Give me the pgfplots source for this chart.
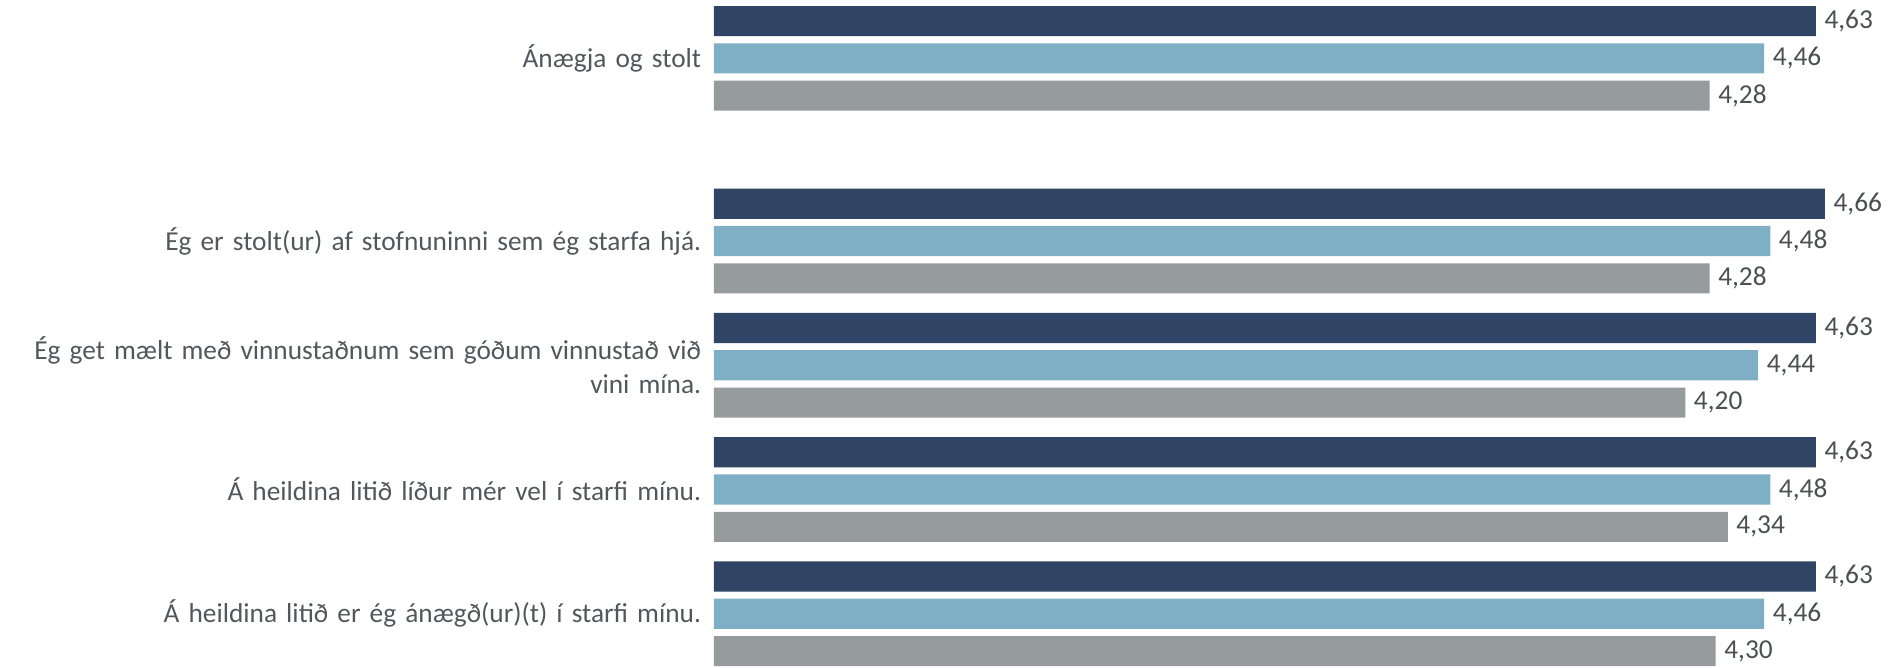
\documentclass[border=0pt]{standalone}
\usepackage{fontspec}
\setmainfont{Carlito}
\usepackage{pgfplots}
\pgfplotsset{compat=1.18}
\definecolor{navy}{HTML}{304566}
\definecolor{lblue}{HTML}{7FAFC4}
\definecolor{gry}{HTML}{969B9D}
\definecolor{txt}{HTML}{51585C}
\definecolor{numtxt}{HTML}{4A4F52}
\begin{document}
\begin{tikzpicture}
\begin{axis}[
 scale only axis, width=117.5mm, height=66.9mm,
 xmin=1, xmax=4.86, ymin=-0.43, ymax=4.94,
 xbar, bar width=0.242, bar shift=0pt,
 axis line style={draw=none}, major tick length=0pt,
 xtick=\empty,
 ytick={0,1,2,3,4.47},
 yticklabels={{Á heildina litið er ég ánægð(ur)(t) í starfi mínu.},{Á heildina litið líður mér vel í starfi mínu.},{Ég get mælt með vinnustaðnum sem góðum vinnustað við\\vini mína.},{Ég er stolt(ur) af stofnuninni sem ég starfa hjá.},{Ánægja og stolt}},
 yticklabel style={text width=70.3mm, align=right, inner sep=0pt, xshift=-1.2mm, font=\fontsize{7.8}{9.6}\selectfont, text=txt},
 point meta=x,
 nodes near coords={\pgfmathprintnumber[fixed,fixed zerofill,precision=2,use comma,assume math mode=true]{\pgfplotspointmeta}},
 nodes near coords style={font=\fontsize{7.8}{9.6}\selectfont, text=numtxt, inner xsep=0.8mm, inner ysep=0pt},
]
\addplot[fill=navy, draw=none] coordinates {(4.63,4.77) (4.66,3.30) (4.63,2.30) (4.63,1.30) (4.63,0.30)};
\addplot[fill=lblue, draw=none] coordinates {(4.46,4.47) (4.48,3) (4.44,2) (4.48,1) (4.46,0)};
\addplot[fill=gry, draw=none] coordinates {(4.28,4.17) (4.28,2.70) (4.20,1.70) (4.34,0.70) (4.30,-0.30)};
\end{axis}
\end{tikzpicture}
\end{document}
